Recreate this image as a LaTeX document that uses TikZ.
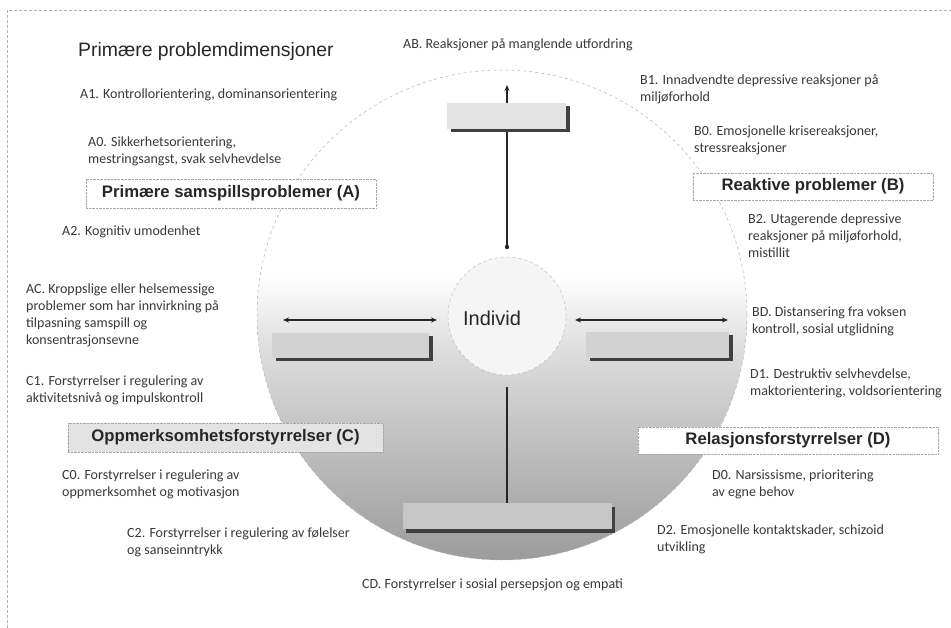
\documentclass[tikz,border=0pt]{standalone}
\usepackage{fontspec}
\setmainfont{Carlito}
\newfontfamily\arialf{Liberation Sans}
\usetikzlibrary{arrows.meta,shadows,calc}
\pgfdeclareverticalshading{circshade}{100bp}{color(0bp)=(gray!80); color(25bp)=(gray!78); color(30bp)=(gray!66); color(39bp)=(gray!45); color(47bp)=(gray!25); color(54bp)=(white); color(100bp)=(white)}
\begin{document}
\begin{tikzpicture}[x=1pt,y=-1pt,
  lbl/.style={anchor=north west, inner sep=0pt, align=left, font=\fontsize{14}{17}\selectfont, text=black!78},
  head/.style={draw=gray!70, densely dotted, fill=white, inner sep=0pt, font=\arialf\bfseries\fontsize{16.7}{18}\selectfont, text=black!85},
  inbox/.style={fill=gray!35, draw=none, inner sep=0pt, drop shadow={shadow xshift=3.5pt, shadow yshift=-3.5pt, fill=black!75, opacity=1}},
  conn/.style={line width=1.3pt, draw=black!85}]
\useasboundingbox (0,0) rectangle (951,628);
% frame
\draw[gray!60, densely dashed, line width=0.6pt] (7,628) -- (7,10) -- (951,10);
% big circle
\shade[shading=circshade] (502,315) circle (245);
\draw[gray!60, dashed, line width=0.5pt] (502,315) circle (245);
% coordinates
\coordinate (topend) at (507,85);
\coordinate (topdot) at (507,247);
\coordinate (la) at (283,320);
\coordinate (lb) at (437,320);
\coordinate (ra) at (575,320);
\coordinate (rb) at (728,320);
% connectors behind boxes
\draw[conn,-{Stealth[length=6pt,width=5pt]}] (topdot) -- (topend);
\fill[black!85] (topdot) circle (2.2);
\draw[conn,{Stealth[length=6pt,width=5pt]}-{Stealth[length=6pt,width=5pt]}] (la) -- (lb);
\draw[conn,{Stealth[length=6pt,width=5pt]}-{Stealth[length=6pt,width=5pt]}] (ra) -- (rb);
% inner boxes
\node[inbox, fill=gray!22, minimum width=119pt, minimum height=26pt] (topbox) at (506.5,116) {};
\node[inbox, minimum width=157pt, minimum height=25pt] (leftbox) at (350.5,345.5) {};
\node[inbox, minimum width=143pt, minimum height=26pt] (rightbox) at (657.5,345) {};
\node[inbox, fill=gray!45, minimum width=209pt, minimum height=26pt] (botbox) at (507,516) {};
% inner circle
\node[circle, minimum size=118pt, inner sep=0pt, fill=gray!8, draw=gray!60, dashed] (ind) at (507,316) {};
\node[inner sep=0pt, font=\arialf\fontsize{20}{22}\selectfont, text=black!85] (indtxt) at (492,318) {Individ};
\draw[conn, shorten <=12pt] (ind.south) -- (botbox.north);
% heading boxes
\node[head, minimum width=290pt, minimum height=29pt] (hA) at (231,193.5) {Primære samspillsproblemer (A)};
\node[head, minimum width=240pt, minimum height=27pt] (hB) at (813,186.5) {Reaktive problemer (B)};
\node[head, fill=gray!22, minimum width=315pt, minimum height=29pt] (hC) at (225.5,437.5) {Oppmerksomhetsforstyrrelser (C)};
\node[head, minimum width=300pt, minimum height=27pt] (hD) at (788,440.5) {Relasjonsforstyrrelser (D)};
% title
\node[anchor=north west, inner sep=0pt, font=\arialf\fontsize{19.4}{21}\selectfont, text=black!85] (title) at (78,42) {Primære problemdimensjoner};
% labels
\node[lbl] (ab) at (403,38) {AB. Reaksjoner på manglende utfordring};
\node[lbl] (a1) at (80,89) {A1. Kontrollorientering, dominansorientering};
\node[lbl] (a0) at (88,137) {A0. Sikkerhetsorientering,\\mestringsangst, svak selvhevdelse};
\node[lbl] (a2) at (62,226) {A2. Kognitiv umodenhet};
\node[lbl] (ac) at (26,284) {AC. Kroppslige eller helsemessige\\problemer som har innvirkning på\\tilpasning samspill og\\konsentrasjonsevne};
\node[lbl] (c1) at (26,376) {C1. Forstyrrelser i regulering av\\aktivitetsnivå og impulskontroll};
\node[lbl] (c0) at (62,470) {C0. Forstyrrelser i regulering av\\oppmerksomhet og motivasjon};
\node[lbl] (c2) at (127,528) {C2. Forstyrrelser i regulering av følelser\\og sanseinntrykk};
\node[lbl] (cd) at (362,579) {CD. Forstyrrelser i sosial persepsjon og empati};
\node[lbl] (b1) at (640,74) {B1. Innadvendte depressive reaksjoner på\\miljøforhold};
\node[lbl] (b0) at (694,126) {B0. Emosjonelle krisereaksjoner,\\stressreaksjoner};
\node[lbl] (b2) at (748,214) {B2. Utagerende depressive\\reaksjoner på miljøforhold,\\mistillit};
\node[lbl] (bd) at (752,307) {BD. Distansering fra voksen\\kontroll, sosial utglidning};
\node[lbl] (d1) at (750,369) {D1. Destruktiv selvhevdelse,\\maktorientering, voldsorientering};
\node[lbl] (d0) at (712,470) {D0. Narsissisme, prioritering\\av egne behov};
\node[lbl] (d2) at (657,525) {D2. Emosjonelle kontaktskader, schizoid\\utvikling};
\end{tikzpicture}
\end{document}
